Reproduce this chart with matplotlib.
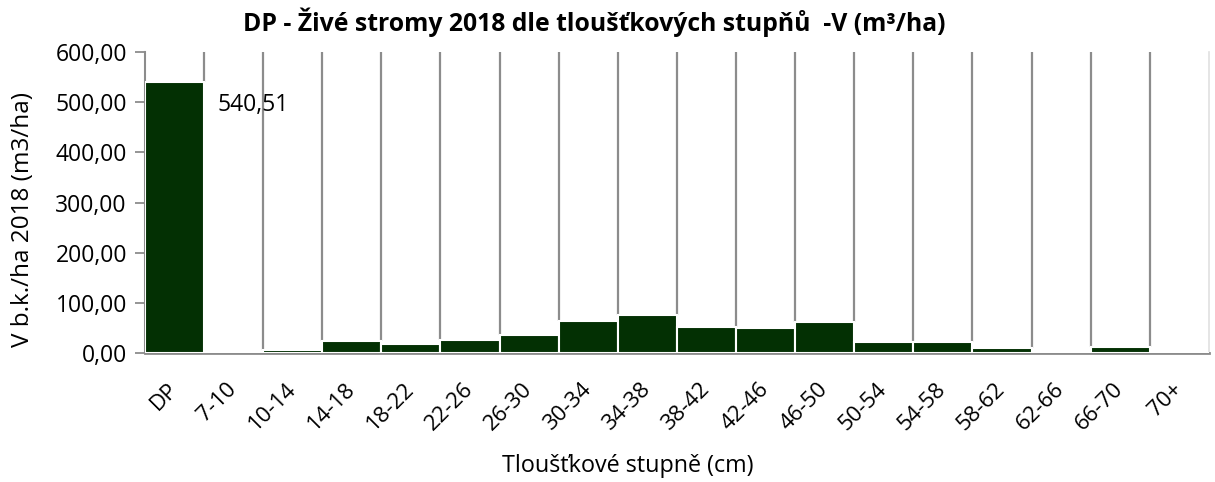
import matplotlib
matplotlib.use("Agg")
import matplotlib.pyplot as plt
import numpy as np

plt.rcParams['font.family'] = ['Open Sans', 'DejaVu Sans']

categories = ["DP", "7-10", "10-14", "14-18", "18-22", "22-26", "26-30", "30-34", "34-38",
              "38-42", "42-46", "46-50", "50-54", "54-58", "58-62", "62-66", "66-70", "70+"]
values = [540.51, 0.0, 6.5, 24.0, 18.5, 25.3, 36.0, 63.0, 75.0,
          51.0, 50.0, 62.0, 22.5, 22.5, 10.6, 0.5, 11.0, 0.0]
yticks = [0, 100, 200, 300, 400, 500, 600]
ytick_labels = ["0,00", "100,00", "200,00", "300,00", "400,00", "500,00", "600,00"]
label_text = "540,51"

bar_color = "#033003"
grid_color = "#8c8c8c"

fig = plt.figure(figsize=(12.15, 4.82), dpi=100)
ax = fig.add_axes([0.1193, 0.2676, 0.8757, 0.6244])

x = np.arange(len(categories))
ax.bar(x, values, width=1.0, color=bar_color, edgecolor="white", linewidth=1.5, zorder=3)

# vertical separators at category boundaries, from the taller neighbour up to the top
for k in range(1, len(categories)):
    lo = max(values[k - 1], values[k])
    ax.vlines(k - 0.5, lo, 600, color=grid_color, linewidth=1.6, zorder=2)

ax.set_xlim(-0.5, len(categories) - 0.5)
ax.set_ylim(0, 600)
ax.set_yticks(yticks)
ax.set_yticklabels(ytick_labels, fontsize=16.5)
ax.set_xticks(x)
ax.set_xticklabels(categories, fontsize=16, rotation=45, ha="right", va="center",
                   rotation_mode="anchor")
ax.tick_params(axis="x", length=0, pad=24)
ax.tick_params(axis="y", length=7, width=1.3, color=grid_color, pad=6)

ax.spines["top"].set_visible(False)
ax.spines["left"].set_color(grid_color)
ax.spines["left"].set_linewidth(1.5)
ax.spines["bottom"].set_color(grid_color)
ax.spines["bottom"].set_linewidth(2.0)
ax.spines["right"].set_color("#e0e0e0")
ax.spines["right"].set_linewidth(1.2)

ax.annotate(label_text, xy=(0.5, values[0]), xytext=(13, -23), textcoords="offset pixels",
            ha="left", va="center", fontsize=16.5)

fig.text(0.489, 0.953, "DP - Živé stromy 2018 dle tloušťkových stupňů  -V (m³/ha)",
         ha="center", va="center", fontsize=17.8, fontweight="bold")
fig.text(0.019, 0.545, "V b.k./ha 2018 (m3/ha)", rotation=90, ha="center", va="center",
         fontsize=17.5)
fig.text(0.517, 0.033, "Tloušťkové stupně (cm)", ha="center", va="center", fontsize=16.8)

fig.savefig("out.png", dpi=100)
